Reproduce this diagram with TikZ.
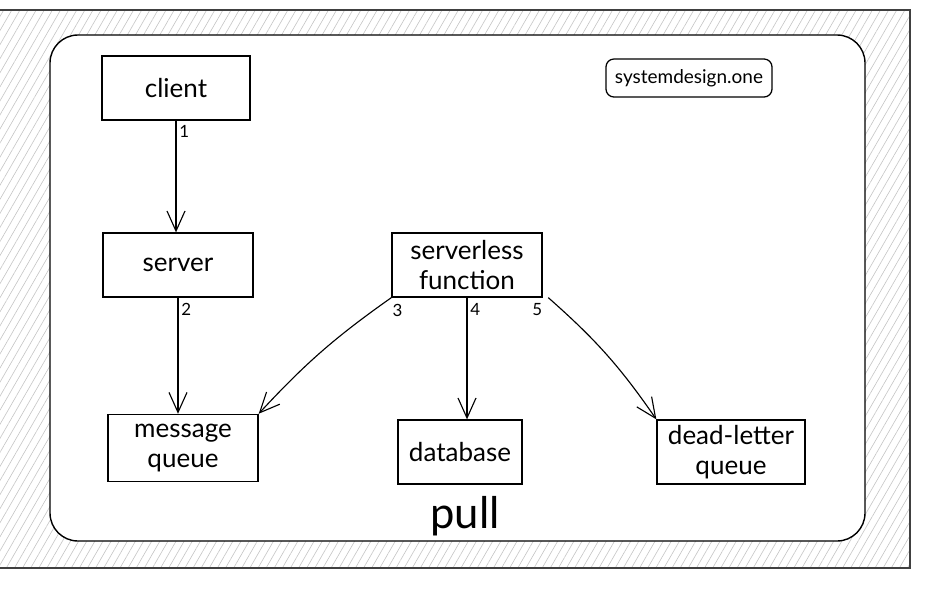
\documentclass[tikz,border=0pt]{standalone}
\usepackage{fontspec}
\setmainfont{Lato}
\usetikzlibrary{arrows.meta,patterns.meta}

\tikzset{
  block/.style={draw, line width=0.9pt, align=center, inner sep=0pt,
    minimum width=3.75cm, minimum height=1.6cm, font=\fontsize{18.5}{21}\selectfont},
  flow/.style={-{Straight Barb[length=5mm,width=4.5mm]}, line width=0.8pt},
  numlabel/.style={font=\fontsize{12}{13}\selectfont, inner sep=2pt}
}

\begin{document}
\begin{tikzpicture}[x=0.025cm, y=-0.025cm]
		\useasboundingbox (0,0) rectangle (925,593);

		% draw the hatched frame
		\fill [pattern={Lines[angle=60,distance=5pt,line width=0.45pt]}, pattern color=gray!45] (0,10) rectangle (910,568);
		\draw [line width=1pt, black!75] (0,10) -- (910,10) -- (910,568) -- (0,568);
		\draw [fill=white, line width=1pt, rounded corners=0.7cm] (50,35) rectangle (865,541);

		% draw the boxes
		\node [block, minimum width=3.7cm] (client) at (176,88) {client};
		\node [block] (server) at (178,265) {server};
		\node [block] (func) at (467,265) {serverless\\function};
		\node [block, minimum height=1.68cm] (queue) at (183,448) {message\\queue};
		\node [block, minimum width=3.1cm] (db) at (460,452) {database};
		\node [block, minimum width=3.7cm] (dlq) at (731,452) {dead-letter\\queue};

		\node [block, rounded corners=0.2cm, minimum width=4.15cm, minimum height=0.95cm,
			font=\fontsize{13.5}{15}\selectfont] (brand) at (689,78) {systemdesign.one};
		\node [font=\fontsize{31}{36}\selectfont] (title) at (465,516) {pull};

		% draw the arrows
		\draw [flow] (client.south) -- (client.south |- server.north)
			node [numlabel, pos=0.1, right] {1};
		\draw [flow] (server.south) -- (server.south |- queue.north)
			node [numlabel, pos=0.1, right] {2};
		\draw [flow] (func.south west) to [bend right=6]
			node [numlabel, pos=0.03, below right, xshift=2pt] {3} (queue.north east);
		\draw [flow] (func.south) -- (func.south |- db.north)
			node [numlabel, pos=0.1, right] {4};
		\draw [flow] ([xshift=4pt]func.south east) to [bend left=7]
			node [numlabel, pos=0.02, below left, xshift=-4pt] {5} (dlq.north west);
\end{tikzpicture}
\end{document}
